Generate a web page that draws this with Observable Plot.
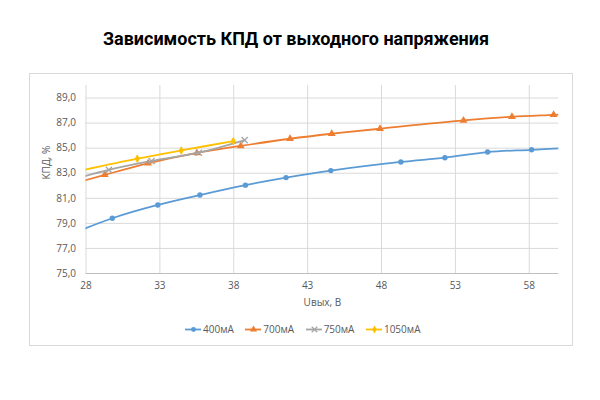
<!DOCTYPE html>
<html>
<head>
<meta charset="utf-8">
<script src="https://cdn.jsdelivr.net/npm/d3@7"></script>
<script src="https://cdn.jsdelivr.net/npm/@observablehq/plot@0.6"></script>
<style>
  html, body { margin: 0; padding: 0; background: #fff; }
  body { width: 600px; height: 400px; position: relative; overflow: hidden; font-family: "Open Sans", sans-serif; }
  #title { position: absolute; left: 0; top: 28px; width: 592px; text-align: center; font-family: Roboto, "Liberation Sans", sans-serif; font-weight: 700; font-size: 18px; color: #000; }
  #frame { position: absolute; left: 29px; top: 73px; width: 544px; height: 273px; border: 1px solid #D9D9D9; box-sizing: border-box; }
  #chart { position: absolute; left: 29px; top: 73px; }
  #legend { position: absolute; left: 185px; top: 322px; display: flex; gap: 11.5px; font-size: 10px; color: #595959; align-items: center; }
  .item { display: flex; align-items: center; gap: 2px; }
</style>
</head>
<body>
<div id="title">Зависимость КПД от выходного напряжения</div>
<div id="frame"></div>
<div id="chart"></div>
<div id="legend"></div>
<script>
// Data (first/last points lie just outside the axis range and are clipped)
const u400    = [26.8, 29.78, 32.86, 35.71, 38.79, 41.54, 44.57, 49.31, 52.29, 55.18, 58.16, 61.1];
const kpd400  = [78.05, 79.41, 80.47, 81.26, 82.05, 82.65, 83.21, 83.9, 84.24, 84.69, 84.87, 85.05];
const u700    = [26.1, 29.27, 32.2, 35.51, 38.47, 41.81, 44.63, 47.9, 53.55, 56.83, 59.65, 62.6];
const kpd700  = [81.82, 82.87, 83.79, 84.62, 85.18, 85.75, 86.15, 86.55, 87.21, 87.5, 87.66, 87.82];
const u750    = [26.5, 29.55, 32.44, 35.64, 38.74];
const kpd750  = [82.3, 83.27, 83.98, 84.64, 85.64];
const u1050   = [27.2, 31.47, 34.45, 37.97];
const kpd1050 = [83.1, 84.16, 84.82, 85.56];

const seriesNames = ["400мА", "700мА", "750мА", "1050мА"];
const seriesColors = ["#5B9BD5", "#ED7D31", "#A5A5A5", "#FFC000"];
const seriesSymbols = ["circle", "triangle", "times", "diamond"];
const xTicks = [28, 33, 38, 43, 48, 53, 58];
const yTicks = [75, 77, 79, 81, 83, 85, 87, 89];
const xTitle = "Uвых, В";
const yTitle = "КПД, %";

const seriesU = [u400, u700, u750, u1050];
const seriesK = [kpd400, kpd700, kpd750, kpd1050];
const data = [];
seriesNames.forEach((name, i) => {
  seriesU[i].forEach((u, j) => data.push({series: name, u, k: seriesK[i][j], inside: u >= 28 && u <= 60}));
});

const fmt = d => d.toFixed(1).replace(".", ",");
const textColor = "#595959";
const symR = {circle: 2.7, triangle: 2.9, times: 2.9, diamond: 2.7};

const marks = [
  Plot.ruleX(xTicks, {stroke: "#D9D9D9", strokeWidth: 1}),
  Plot.ruleY(yTicks.filter(d => d > 75), {stroke: "#D9D9D9", strokeWidth: 1}),
  Plot.ruleY([75], {stroke: "#BFBFBF", strokeWidth: 1}),
  Plot.axisX({ticks: xTicks, tickSize: 0, tickPadding: 8, label: null, fill: textColor, fontSize: 10}),
  Plot.axisY({ticks: yTicks, tickSize: 0, tickPadding: 10, tickFormat: fmt, label: null, fill: textColor, fontSize: 10}),
  Plot.text([xTitle], {frameAnchor: "bottom", dy: 32, fill: textColor, fontSize: 10}),
  Plot.text([yTitle], {frameAnchor: "left", dx: -39, rotate: -90, fill: textColor, fontSize: 10})
];
seriesNames.forEach((name, i) => {
  const d = data.filter(r => r.series === name);
  marks.push(Plot.line(d, {x: "u", y: "k", stroke: seriesColors[i], strokeWidth: 1.8, curve: "catmull-rom", clip: true}));
  const sym = seriesSymbols[i];
  const isStroke = sym === "times";
  marks.push(Plot.dot(d.filter(r => r.inside), {
    x: "u", y: "k", symbol: () => sym, r: symR[sym],
    fill: isStroke ? "none" : seriesColors[i],
    stroke: isStroke ? seriesColors[i] : "none",
    strokeWidth: isStroke ? 1.3 : 0
  }));
});

const chart = Plot.plot({
  width: 544, height: 245,
  marginLeft: 56.5, marginRight: 14.7, marginTop: 12, marginBottom: 45,
  style: {fontFamily: "'Open Sans', sans-serif", background: "transparent"},
  x: {domain: [28, 60]},
  y: {domain: [75, 90]},
  symbol: {type: "identity"},
  marks
});
document.getElementById("chart").appendChild(chart);

// Legend
const legend = document.getElementById("legend");
seriesNames.forEach((name, i) => {
  const item = document.createElement("div");
  item.className = "item";
  const sym = seriesSymbols[i];
  const sw = Plot.plot({
    width: 16, height: 10, margin: 0,
    x: {domain: [0, 1], axis: null}, y: {domain: [0, 1], axis: null},
    symbol: {type: "identity"},
    style: {background: "transparent", overflow: "visible"},
    marks: [
      Plot.ruleY([0.5], {x1: 0, x2: 1, stroke: seriesColors[i], strokeWidth: 1.8}),
      Plot.dot([0.5], {x: 0.5, y: 0.5, symbol: () => sym, r: symR[sym] * 0.9,
        fill: sym === "times" ? "none" : seriesColors[i],
        stroke: sym === "times" ? seriesColors[i] : "none", strokeWidth: 1.2})
    ]
  });
  item.appendChild(sw);
  const t = document.createElement("span");
  t.textContent = name;
  item.appendChild(t);
  legend.appendChild(item);
});
</script>
</body>
</html>
